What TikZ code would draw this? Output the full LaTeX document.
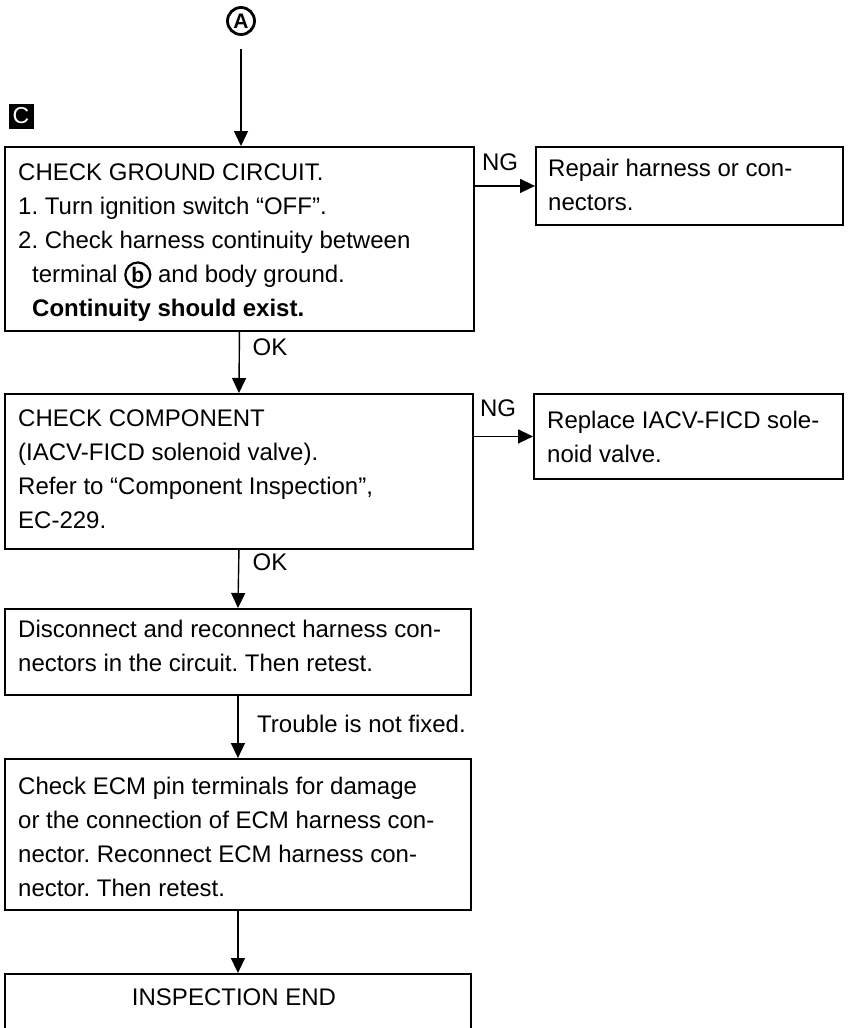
\documentclass[tikz,border=0pt]{standalone}
\usepackage{fontspec}
\setmainfont{Liberation Sans}
\usetikzlibrary{arrows.meta}
\frenchspacing
\newcommand{\circb}{\tikz[baseline=(cb.base)]\node[circle,draw,line width=2.2pt,inner sep=0pt,minimum size=25pt,font=\bfseries\fontsize{21}{21}\selectfont](cb){b};}
\begin{document}
\begin{tikzpicture}[x=1pt,y=-1pt,
  box/.style={draw,line width=1.9pt,rectangle,inner sep=0pt,anchor=north west},
  txt/.style={anchor=north west,align=left,inner sep=0pt,font=\fontsize{24}{34}\selectfont},
  arr/.style={line width=1.4pt,-{Triangle[length=15pt,width=14pt]}},
  lbl/.style={inner sep=0pt,font=\fontsize{24}{34}\selectfont}]
\useasboundingbox (0,0) rectangle (847,1028);
% start marker and section tag
\node[circle,draw,line width=2.8pt,minimum size=27pt,inner sep=0pt,font=\bfseries\fontsize{21}{21}\selectfont] (A) at (241,21) {A};
\node[fill=black,text=white,minimum size=25pt,inner sep=0pt,font=\fontsize{23}{23}\selectfont] (C) at (21,116) {C};
% box 1
\node[box,minimum width=469pt,minimum height=184pt] (b1) at (4,146) {};
\node[txt] (t1) at (18,163.5) {CHECK GROUND CIRCUIT.\\1. Turn ignition switch “OFF”.\\2. Check harness continuity between\\\hspace*{14pt}terminal \circb{} and body ground.\\\hspace*{14pt}\textbf{Continuity should exist.}};
\node[box,minimum width=307pt,minimum height=78pt] (r1) at (535,146) {};
\node[txt] (tr1) at (548,158.5) {Repair harness or con-\\nectors.};
\node[lbl] (ng1) at (500,162) {NG};
% box 2
\node[box,minimum width=468pt,minimum height=155pt] (b2) at (4,393) {};
\node[txt] (t2) at (18,409.5) {CHECK COMPONENT\\(IACV-FICD solenoid valve).\\Refer to “Component Inspection”,\\EC-229.};
\node[box,minimum width=309pt,minimum height=85pt] (r2) at (533,393) {};
\node[txt] (tr2) at (547,411) {Replace IACV-FICD sole-\\noid valve.};
\node[lbl] (ng2) at (498,408) {NG};
\node[lbl] (ok1) at (270,347) {OK};
% box 3
\node[box,minimum width=466pt,minimum height=86pt] (b3) at (4,608) {};
\node[txt] (t3) at (18,619.5) {Disconnect and reconnect harness con-\\nectors in the circuit. Then retest.};
\node[lbl] (ok2) at (270,562) {OK};
\node[lbl,anchor=west] (tr) at (257,724) {Trouble is not fixed.};
% box 4
\node[box,minimum width=466pt,minimum height=151pt] (b4) at (4,758) {};
\node[txt] (t4) at (18,776.5) {Check ECM pin terminals for damage\\or the connection of ECM harness con-\\nector. Reconnect ECM harness con-\\nector. Then retest.};
% box 5
\node[box,minimum width=466pt,minimum height=120pt] (b5) at (4,973) {};
\node[lbl] (t5) at (234,997) {INSPECTION END};
% connectors
\draw[arr] ([yshift=-13pt]A.south) -- (A |- b1.north);
\draw[arr] (r1.west -| b1.east) -- (r1.west);
\draw[arr] (b1.south) -- (b2.north);
\draw[arr] (r2.west -| b2.east) -- (r2.west);
\draw[arr] (b2.south) -- (b3.north);
\draw[arr] (b3.south) -- (b4.north);
\draw[arr] (b4.south) -- (b5.north);
\end{tikzpicture}
\end{document}
